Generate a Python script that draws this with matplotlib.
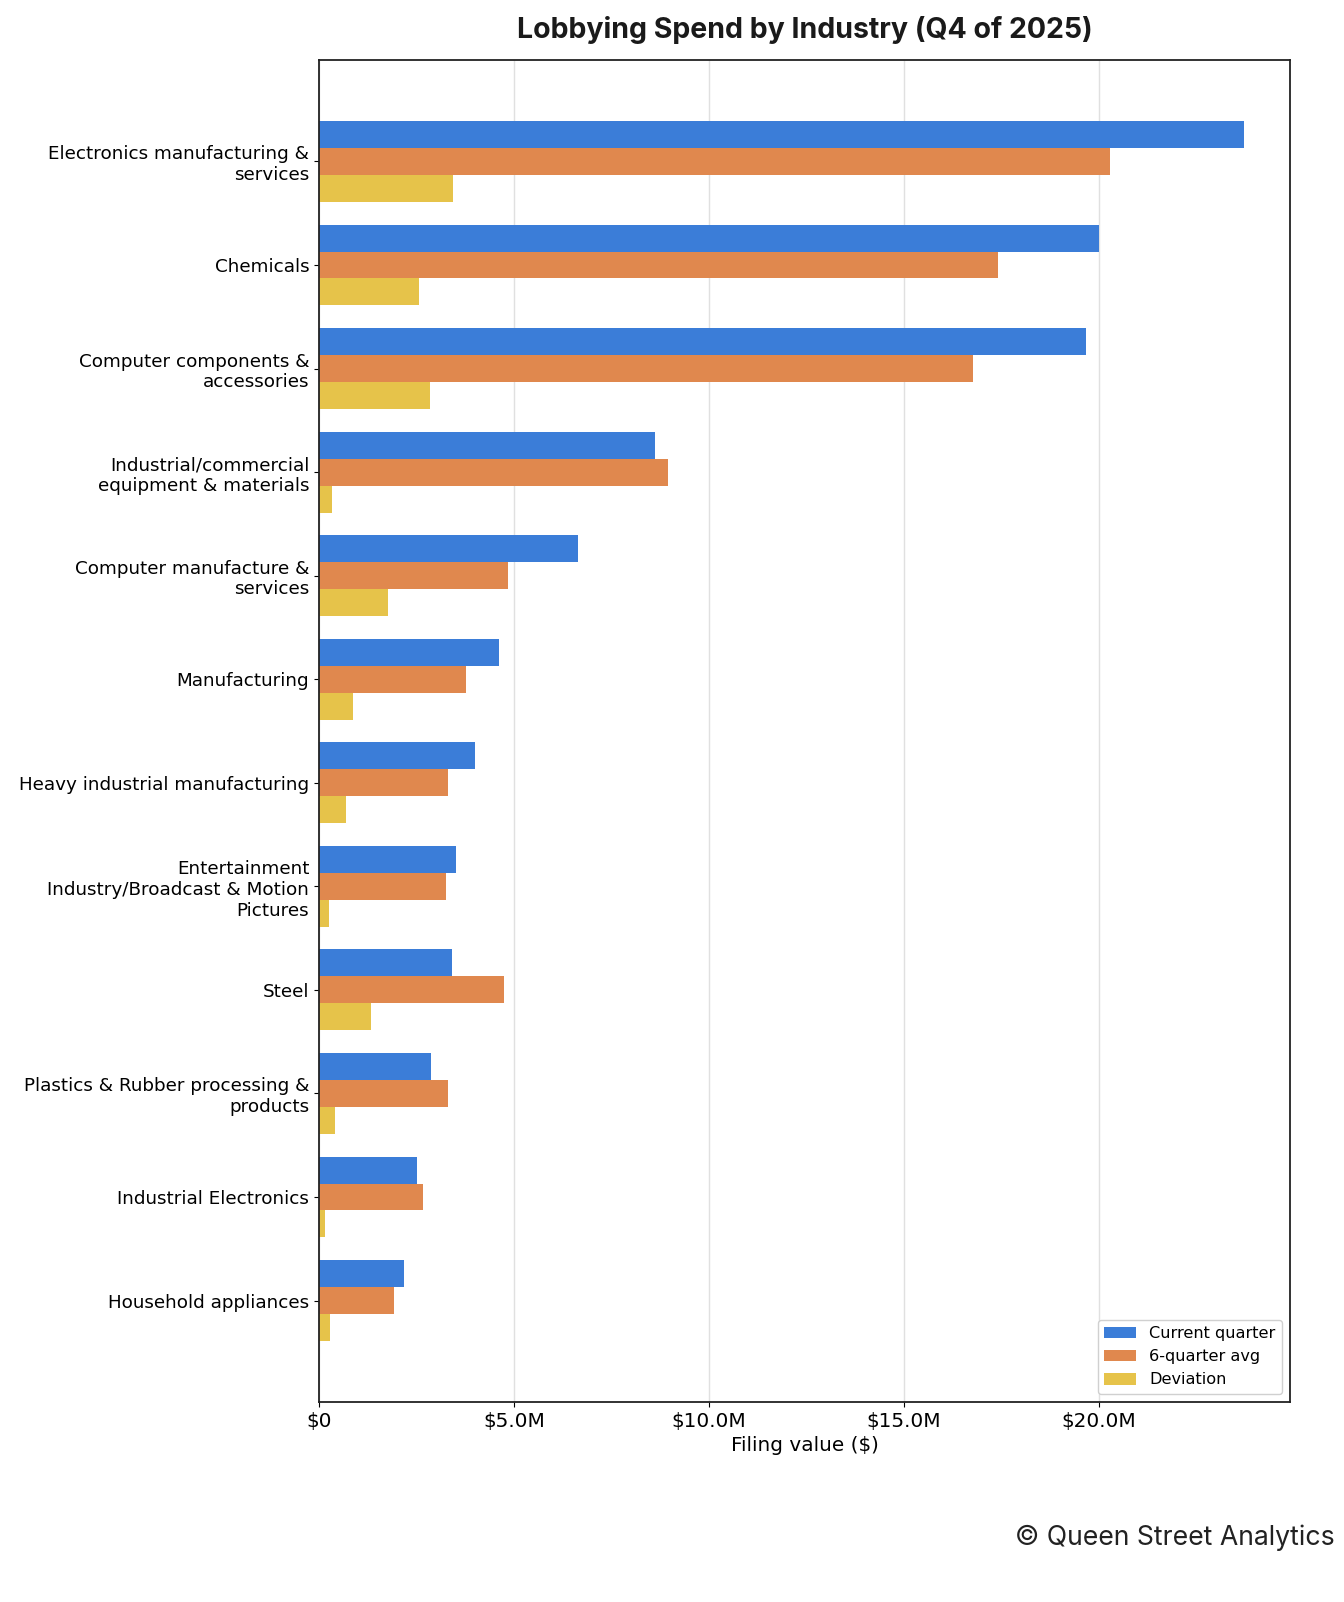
import numpy as np
import matplotlib.pyplot as plt
from matplotlib.ticker import FuncFormatter

categories = [
    "Electronics manufacturing &\nservices",
    "Chemicals",
    "Computer components &\naccessories",
    "Industrial/commercial\nequipment & materials",
    "Computer manufacture &\nservices",
    "Manufacturing",
    "Heavy industrial manufacturing",
    "Entertainment\nIndustry/Broadcast & Motion\nPictures",
    "Steel",
    "Plastics & Rubber processing &\nproducts",
    "Industrial Electronics",
    "Household appliances",
]
current = [23.72, 20.0, 19.67, 8.62, 6.64, 4.62, 4.0, 3.51, 3.41, 2.87, 2.51, 2.18]
avg6 = [20.28, 17.41, 16.77, 8.95, 4.85, 3.77, 3.31, 3.26, 4.74, 3.31, 2.67, 1.92]
deviation = [3.44, 2.56, 2.85, 0.33, 1.77, 0.87, 0.69, 0.26, 1.33, 0.41, 0.15, 0.28]

current = np.array(current) * 1e6
avg6 = np.array(avg6) * 1e6
deviation = np.array(deviation) * 1e6

fig = plt.figure(figsize=(13.44, 16.02), dpi=100)
ax = fig.add_axes([319 / 1344, 1 - 1402 / 1602, (1290 - 319) / 1344, (1402 - 60) / 1602])

y = np.arange(len(categories))
h = 0.26
ax.barh(y - h, current, height=h, color="#3b7dd8", label="Current quarter", zorder=2)
ax.barh(y, avg6, height=h, color="#e0884e", label="6-quarter avg", zorder=2)
ax.barh(y + h, deviation, height=h, color="#e6c34a", label="Deviation", zorder=2)

ax.set_yticks(y)
ax.set_yticklabels(categories, fontsize=13.2)
ax.set_ylim(len(categories) - 0.02, -0.98)
ax.set_xlim(0, current.max() * 1.05)
ax.set_xticks([0, 5e6, 10e6, 15e6, 20e6])


def fmt(v, pos):
    if v == 0:
        return "$0"
    return f"${v / 1e6:.1f}M"


ax.xaxis.set_major_formatter(FuncFormatter(fmt))
ax.tick_params(axis="x", labelsize=14.4)
ax.grid(axis="x", color="#e0e0e0", linewidth=1, zorder=0)
ax.set_axisbelow(True)
for s in ax.spines.values():
    s.set_color("#222222")
    s.set_linewidth(1.3)

ax.set_xlabel("Filing value ($)", fontsize=14.4)
ax.set_title("Lobbying Spend by Industry (Q4 of 2025)", fontsize=20.5, fontweight="bold",
             family="Inter", color="#1a1a1a", pad=16)
ax.legend(loc="lower right", fontsize=11.6, framealpha=1, edgecolor="#d0d0d0")

fig.text(0.993, 0.04, "\u00a9 Queen Street Analytics", ha="right", va="center",
         fontsize=19.2, family="Inter", color="#222222")

fig.savefig("out.png", dpi=100)
